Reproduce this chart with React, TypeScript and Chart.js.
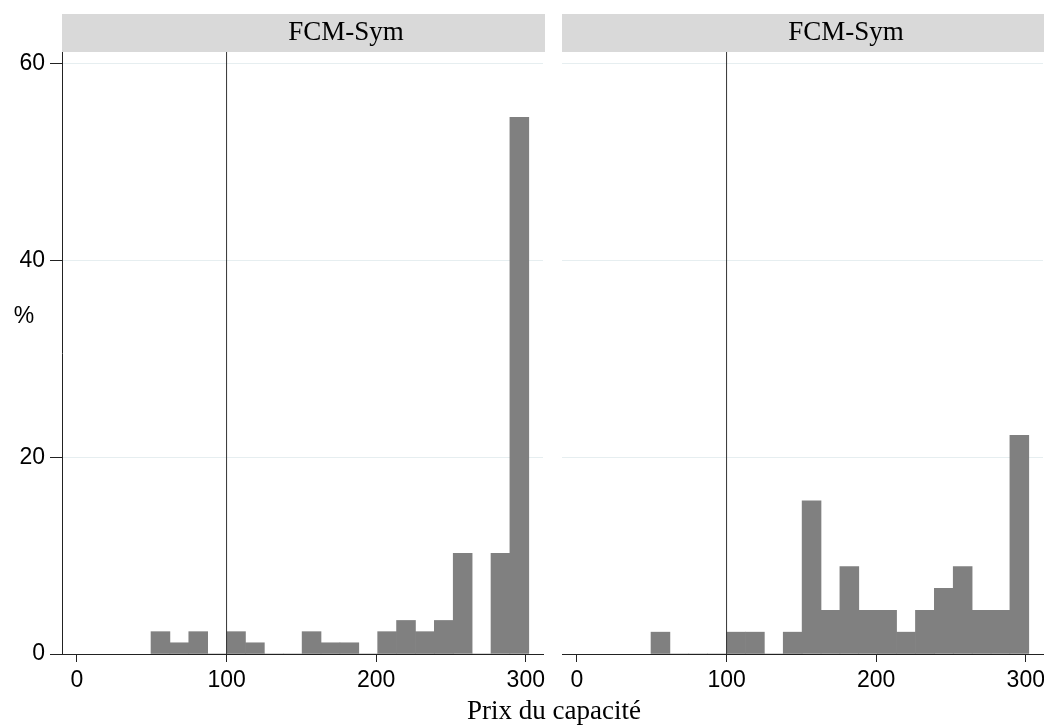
import React, { useEffect, useRef } from "react";
import { Chart, registerables } from "chart.js";

Chart.register(...registerables);

// ---------- data ----------
const panelTitles = ["FCM-Sym", "FCM-Sym"];
const binStarts = [
  49.5, 62.125, 74.75, 87.375, 100, 112.625, 125.25, 137.875, 150.5, 163.125,
  175.75, 188.375, 201, 213.625, 226.25, 238.875, 251.5, 264.125, 276.75, 289.375,
];
const binWidth = 12.625;
const leftPercent = [
  2.27, 1.14, 2.27, 0, 2.27, 1.14, 0, 0, 2.27, 1.14,
  1.14, 0, 2.27, 3.41, 2.27, 3.41, 10.23, 0, 10.23, 54.55,
];
const rightPercent = [
  2.22, 0, 0, 0, 2.22, 2.22, 0, 2.22, 15.56, 4.44,
  8.89, 4.44, 4.44, 2.22, 4.44, 6.67, 8.89, 4.44, 4.44, 22.22,
];
const xTicks = [0, 100, 200, 300];
const yTicks = [0, 20, 40, 60];
const refLineX = 100;
const xTitle = "Prix du capacité";
const yTitle = "%";

const X_MIN = -10;
const X_MAX = 311.5;
const Y_MAX = 61.2;

const SANS = "'Liberation Sans', Arial, sans-serif";
const SERIF = "'Liberation Serif', 'Times New Roman', serif";
const GRID = "#e6eef0";
const AXIS = "#222";

const headerPlugin = {
  id: "panelHeader",
  beforeDraw(chart: any, _args: any, opts: any) {
    const { ctx, chartArea } = chart;
    ctx.save();
    ctx.fillStyle = "#d9d9d9";
    ctx.fillRect(chartArea.left, 14, chartArea.right - chartArea.left + 2, 38);
    ctx.fillStyle = "#000";
    ctx.font = `27px ${SERIF}`;
    ctx.textAlign = "center";
    ctx.textBaseline = "alphabetic";
    ctx.fillText(opts.text || "", chartArea.left + 284, 40);
    ctx.restore();
  },
};

const yTitlePlugin = {
  id: "yTitleFlat",
  afterDraw(chart: any, _args: any, opts: any) {
    if (!opts || !opts.text) return;
    const { ctx } = chart;
    ctx.save();
    ctx.fillStyle = "#000";
    ctx.font = `23px ${SANS}`;
    ctx.textAlign = "center";
    ctx.textBaseline = "middle";
    ctx.fillText(opts.text, 24, 317);
    ctx.restore();
  },
};

function makeConfig(values: number[], title: string, showY: boolean, padLeft: number, padRight: number): any {
  const bars = binStarts.map((s, i) => ({ x: s + binWidth / 2, y: values[i] }));
  return {
    type: "bar",
    data: {
      datasets: [
        {
          type: "line",
          data: [
            { x: refLineX, y: 0 },
            { x: refLineX, y: Y_MAX },
          ],
          borderColor: "#333",
          borderWidth: 1,
          pointRadius: 0,
          tension: 0,
          order: 0,
        },
        {
          type: "bar",
          data: bars,
          backgroundColor: "#808080",
          borderWidth: 0,
          barPercentage: 1,
          categoryPercentage: 1,
          order: 1,
        },
      ],
    },
    options: {
      responsive: false,
      animation: false,
      layout: { padding: { top: 52, left: padLeft, right: padRight, bottom: 0 } },
      plugins: {
        legend: { display: false },
        tooltip: { enabled: false },
        title: { display: false },
        panelHeader: { text: title },
        yTitleFlat: { text: showY ? yTitle : "" },
      },
      scales: {
        x: {
          type: "linear",
          min: X_MIN,
          max: X_MAX,
          offset: false,
          grid: {
            display: true,
            offset: false,
            drawOnChartArea: false,
            drawTicks: true,
            tickLength: 8,
            tickColor: AXIS,
          },
          border: { display: true, color: AXIS, width: 1 },
          ticks: {
            color: "#000",
            font: { family: SANS, size: 23 },
            padding: 5,
            maxRotation: 0,
            autoSkip: false,
          },
          afterBuildTicks: (s: any) => {
            s.ticks = xTicks.map((v) => ({ value: v }));
          },
          afterFit: (s: any) => {
            s.height = 73;
          },
        },
        y: showY
          ? {
              type: "linear",
              min: 0,
              max: Y_MAX,
              grid: {
                color: GRID,
                lineWidth: 1,
                drawTicks: true,
                tickLength: 12,
                tickColor: AXIS,
              },
              border: { display: true, color: AXIS, width: 1 },
              ticks: {
                color: "#000",
                font: { family: SANS, size: 23 },
                padding: 5,
              },
              afterBuildTicks: (s: any) => {
                s.ticks = yTicks.map((v) => ({ value: v }));
              },
              afterFit: (s: any) => {
                s.width = 62;
              },
            }
          : {
              type: "linear",
              min: 0,
              max: Y_MAX,
              grid: { color: GRID, lineWidth: 1, drawTicks: false },
              border: { display: false },
              ticks: { display: false },
              afterBuildTicks: (s: any) => {
                s.ticks = yTicks.map((v) => ({ value: v }));
              },
              afterFit: (s: any) => {
                s.width = 0;
              },
            },
      },
    },
    plugins: [headerPlugin, yTitlePlugin],
  };
}

function Panel(props: {
  values: number[];
  title: string;
  showY: boolean;
  left: number;
  width: number;
  padLeft: number;
  padRight: number;
}) {
  const ref = useRef<HTMLCanvasElement | null>(null);
  useEffect(() => {
    if (!ref.current) return;
    const chart = new Chart(
      ref.current,
      makeConfig(props.values, props.title, props.showY, props.padLeft, props.padRight)
    );
    return () => chart.destroy();
  }, []);
  return (
    <canvas
      ref={ref}
      width={props.width}
      height={727}
      style={{
        position: "absolute",
        left: props.left,
        top: 0,
        width: props.width,
        height: 727,
      }}
    />
  );
}

export default function App() {
  return (
    <div
      style={{
        position: "absolute",
        left: 0,
        top: 0,
        width: 1044,
        height: 727,
        overflow: "hidden",
        background: "#fff",
      }}
    >
      <Panel values={leftPercent} title={panelTitles[0]} showY={true} left={0} width={553} padLeft={0} padRight={10} />
      <Panel values={rightPercent} title={panelTitles[1]} showY={false} left={553} width={510} padLeft={9} padRight={20} />
      <div
        style={{
          position: "absolute",
          left: 0,
          width: 1108,
          top: 697,
          textAlign: "center",
          font: `27px ${SERIF}`,
          lineHeight: "27px",
          color: "#000",
          whiteSpace: "nowrap",
        }}
      >
        {xTitle}
      </div>
    </div>
  );
}
